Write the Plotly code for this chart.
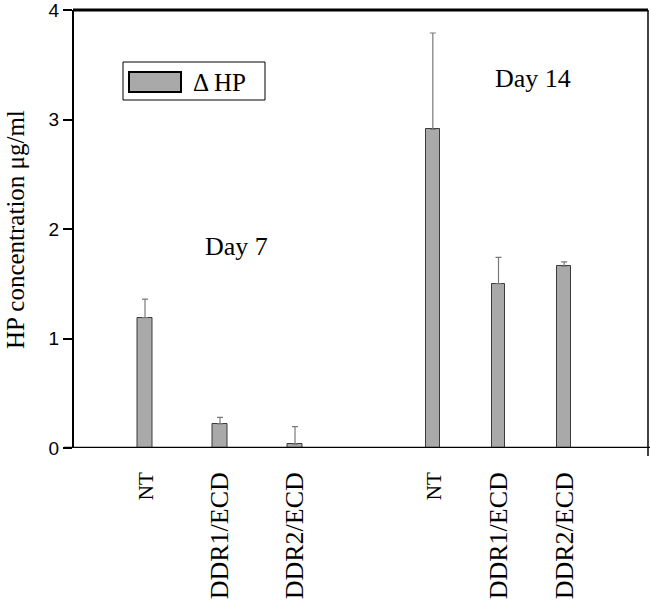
import plotly.graph_objects as go

# ---- data ----
day7_labels = ["NT", "DDR1/ECD", "DDR2/ECD"]
day7_values = [1.19, 0.22, 0.035]
day7_errors = [0.17, 0.06, 0.16]

day14_labels = ["NT", "DDR1/ECD", "DDR2/ECD"]
day14_values = [2.91, 1.50, 1.66]
day14_errors = [0.88, 0.24, 0.04]

y_ticks = [0, 1, 2, 3, 4]
series_name = "Δ HP"
y_title = "HP concentration μg/ml"
group_titles = ["Day 7", "Day 14"]

# ---- style ----
SERIF = "Liberation Serif"
SANS = "Liberation Sans"
BAR_FILL = "#a9a9a9"
BAR_LINE = "#3a3a3a"
ERR_COLOR = "#7a7a7a"

# plot-area geometry (px) used to convert helper positions to paper coords
L, R, T, B = 73, 648, 10, 448
PW, PH = R - L, B - T


def px(xp):
    return (xp - L) / PW


def py(yp):
    return (B - yp) / PH


fig = go.Figure()

bar_common = dict(
    marker=dict(color=BAR_FILL, line=dict(color=BAR_LINE, width=1)),
    showlegend=False,
    hoverinfo="skip",
)

fig.add_trace(go.Bar(
    x=list(range(len(day7_labels))), y=day7_values,
    width=0.187, xaxis="x", yaxis="y",
    error_y=dict(type="data", array=day7_errors, arrayminus=[0] * len(day7_errors),
                 symmetric=False, color=ERR_COLOR, thickness=1.2, width=3),
    name=series_name, **bar_common))

fig.add_trace(go.Bar(
    x=list(range(len(day14_labels))), y=day14_values,
    width=0.21, xaxis="x2", yaxis="y",
    error_y=dict(type="data", array=day14_errors, arrayminus=[0] * len(day14_errors),
                 symmetric=False, color=ERR_COLOR, thickness=1.2, width=3),
    name=series_name, **bar_common))


def styled(labels):
    out = []
    for lab in labels:
        size = 21 if len(lab) <= 2 else 26
        out.append(f'<span style="font-size:{size}px">{lab}</span>')
    return out


xcommon = dict(
    tickangle=-90, showline=False, showgrid=False, zeroline=False, ticks="",
    tickfont=dict(family=SERIF, size=26, color="black"), ticklabelstandoff=18,
    range=[-0.5, 2.5], fixedrange=True, automargin=False,
)

fig.update_layout(
    width=651, height=601,
    margin=dict(l=L, r=651 - R, t=T, b=601 - B, autoexpand=False),
    paper_bgcolor="white", plot_bgcolor="white",
    font=dict(family=SERIF, color="black"),
    bargap=0,
    xaxis=dict(domain=[px(107.5), px(332.5)], anchor="y",
               tickmode="array", tickvals=list(range(len(day7_labels))), ticktext=styled(day7_labels),
               **xcommon),
    xaxis2=dict(domain=[px(400), px(597)], anchor="y",
                tickmode="array", tickvals=list(range(len(day14_labels))), ticktext=styled(day14_labels),
                **xcommon),
    yaxis=dict(range=[0, 4], tickmode="array", tickvals=y_ticks,
               anchor="free", position=0,
               showline=True, linecolor="black", linewidth=2,
               ticks="outside", ticklen=9, tickwidth=2, tickcolor="black",
               showgrid=False, zeroline=False, automargin=False,
               ticklabeloverflow="allow",
               tickfont=dict(family=SANS, size=19, color="black")),
)

# y-axis title
fig.add_annotation(xref="paper", yref="paper", x=px(15), y=py(230), textangle=-90,
                   text=y_title, showarrow=False, xanchor="center", yanchor="middle",
                   font=dict(family=SERIF, size=25, color="black"))

# frame: top, right, bottom baseline
fig.add_shape(type="line", xref="paper", yref="paper", x0=0, x1=1, y0=1, y1=1,
              line=dict(color="black", width=3))
fig.add_shape(type="line", xref="paper", yref="paper", x0=1, x1=1, y0=py(456), y1=1,
              line=dict(color="black", width=1.5))
fig.add_shape(type="line", xref="paper", yref="y", x0=px(64), x1=px(650), y0=0, y1=0,
              line=dict(color="black", width=2.5))

# legend (drawn)
fig.add_shape(type="rect", xref="paper", yref="paper",
              x0=px(123), x1=px(265), y0=py(100), y1=py(62),
              line=dict(color="black", width=1), fillcolor="white")
fig.add_shape(type="rect", xref="paper", yref="paper",
              x0=px(129), x1=px(181), y0=py(92), y1=py(72),
              line=dict(color="black", width=2), fillcolor=BAR_FILL)
fig.add_annotation(xref="paper", yref="paper", x=px(191), y=py(82),
                   text=series_name, showarrow=False, xanchor="left", yanchor="middle",
                   font=dict(family=SERIF, size=25, color="black"))

# group titles
fig.add_annotation(xref="paper", yref="paper", x=px(236), y=py(247),
                   text=group_titles[0], showarrow=False, xanchor="center", yanchor="middle",
                   font=dict(family=SERIF, size=26, color="black"))
fig.add_annotation(xref="paper", yref="paper", x=px(533), y=py(78),
                   text=group_titles[1], showarrow=False, xanchor="center", yanchor="middle",
                   font=dict(family=SERIF, size=26, color="black"))

fig.write_html("out.html", config={"displayModeBar": False},
               post_script="document.body.style.margin='0';")
